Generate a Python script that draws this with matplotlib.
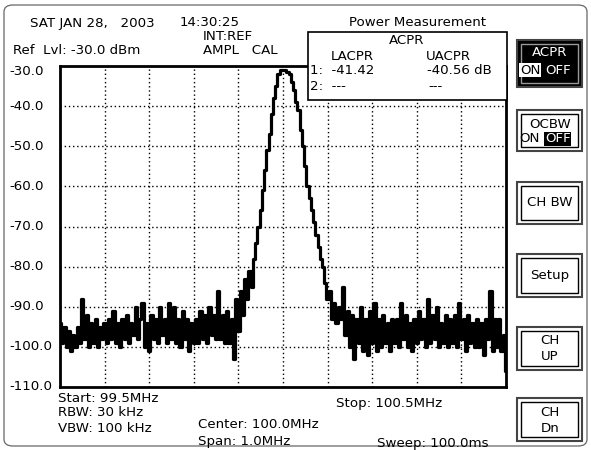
import matplotlib.pyplot as plt
from matplotlib.patches import Rectangle, FancyBboxPatch
import matplotlib.transforms as mtransforms
import numpy as np

W, H = 591, 450

# trace values in dBm, one per 5 kHz step from 99.5 to 100.5 MHz
noise_left = [-94, -99, -95, -100, -96, -101, -97, -100, -95, -99, -88, -98, -92, -100, -94, -99, -93, -100, -95, -98, -94,
              -99, -93, -98, -91, -99, -94, -100, -93, -98, -92, -99, -94, -97, -90, -98, -93, -89, -100, -94, -101,
              -92, -98, -93, -99, -90, -97, -93, -99, -89, -98, -90, -99, -93, -100, -91, -98, -93, -101, -94, -99,
              -93, -99, -91, -98, -92, -99, -90, -97, -92, -98, -86, -98, -92, -99, -91, -99, -93, -103, -88, -96]
skirt_left = [-86, -92, -83, -88, -81, -85, -78, -74]
peak = [-70, -66, -61, -56, -51, -47, -42, -38, -35, -32, -31, -31, -31, -31.5, -32, -34, -36, -39, -41, -46,
        -50, -55, -60, -63, -66, -69, -72, -75, -78, -80, -84, -88, -86, -93, -89, -94, -90, -93, -85]
noise_right = [-97, -91, -100, -92, -103, -93, -99, -90, -101, -93, -102, -91, -99, -89, -101, -93, -100, -92, -99, -94, -101, -93, -99,
               -93, -100, -89, -98, -92, -100, -94, -101, -93, -99, -91, -98, -93, -100, -88, -99, -92, -98, -90, -100,
               -94, -99, -92, -100, -93, -99, -92, -100, -89, -98, -93, -101, -92, -99, -94, -100, -93, -100, -94, -102,
               -93, -98, -86, -101, -93, -100, -93, -101, -97, -106]
trace = np.array(noise_left + skirt_left + peak + noise_right)
freq = np.linspace(99.5, 100.5, len(trace))

y_ticks = [-30, -40, -50, -60, -70, -80, -90, -100, -110]
y_labels = ["-30.0", "-40.0", "-50.0", "-60.0", "-70.0", "-80.0", "-90.0", "-100.0", "-110.0"]


def fx(x):
    return x / W


def fy(y):
    return 1 - y / H


fig = plt.figure(figsize=(W / 100, H / 100), dpi=100)
plt.rcParams['font.family'] = 'DejaVu Sans'
fs = 9.6

# outer frame
fig.add_artist(FancyBboxPatch((fx(4), fy(446)), fx(583), 441 / H, boxstyle="round,pad=0,rounding_size=0.015",
                              transform=fig.transFigure, facecolor='white', edgecolor='#666666', lw=0.9, zorder=-1))

ax = fig.add_axes([fx(60), fy(387), fx(446), 321 / H])
ax.plot(freq, trace, color='black', lw=2.3, drawstyle='steps-mid')
ax.set_xlim(99.5, 100.5)
ax.set_ylim(-110, -30)
ax.set_xticks(np.linspace(99.5, 100.5, 11))
ax.set_yticks(y_ticks)
ax.grid(True, color='black', linestyle=(0, (1, 2)), lw=1)
ax.tick_params(length=0, labelbottom=False, labelleft=False)
for s in ax.spines.values():
    s.set_linewidth(2)

trans = mtransforms.blended_transform_factory(fig.transFigure, ax.transData)
for v, lab in zip(y_ticks, y_labels):
    yy = v - 1.3 if v == -30 else v
    fig.text(fx(9), yy, lab, transform=trans, fontsize=fs, va='center', ha='left')

# header
fig.text(fx(30), fy(23), "SAT JAN 28,   2003", fontsize=fs, va='center')
fig.text(fx(180), fy(23), "14:30:25", fontsize=fs, va='center')
fig.text(fx(203), fy(36), "INT:REF", fontsize=fs, va='center')
fig.text(fx(13), fy(50), "Ref  Lvl: -30.0 dBm", fontsize=fs, va='center')
fig.text(fx(203), fy(50), "AMPL   CAL", fontsize=fs, va='center')
fig.text(fx(418), fy(23), "Power Measurement", fontsize=fs, va='center', ha='center')

# ACPR box
fig.add_artist(Rectangle((fx(308), fy(100)), fx(199), 68 / H, transform=fig.transFigure,
                         facecolor='white', edgecolor='black', lw=1.2, zorder=5))
box_texts = [(407, 40, "ACPR", 'center'), (352, 57, "LACPR", 'center'), (448, 57, "UACPR", 'center'),
             (310, 71, "1:  -41.42", 'left'), (427, 71, "-40.56 dB", 'left'),
             (310, 87, "2:  ---", 'left'), (428, 87, "---", 'left')]
for x, y, t, ha in box_texts:
    fig.text(fx(x), fy(y), t, fontsize=fs, va='center', ha=ha, zorder=6)


def button(y0, y1, black=False):
    fig.add_artist(Rectangle((fx(517), fy(y1)), fx(65), (y1 - y0) / H, transform=fig.transFigure,
                             facecolor='black' if black else 'white', edgecolor='#444444', lw=1.5, zorder=5))
    fig.add_artist(Rectangle((fx(521), fy(y1 - 4)), fx(57), (y1 - y0 - 8) / H, transform=fig.transFigure,
                             facecolor='none', edgecolor='#999999' if black else 'black', lw=1, zorder=5))


button(40, 87, black=True)
fig.text(fx(550), fy(53), "ACPR", color='white', fontsize=fs, ha='center', va='center', zorder=6)
fig.text(fx(520), fy(70), "ON", color='black', fontsize=fs, ha='left', va='center', zorder=6,
         bbox=dict(facecolor='white', edgecolor='none', pad=0.5))
fig.text(fx(545), fy(70), "OFF", color='white', fontsize=fs, ha='left', va='center', zorder=6)

button(110, 151)
fig.text(fx(550), fy(125), "OCBW", fontsize=fs, ha='center', va='center', zorder=6)
fig.text(fx(519), fy(139), "ON", fontsize=fs, ha='left', va='center', zorder=6)
fig.text(fx(545), fy(139), "OFF", color='white', fontsize=fs, ha='left', va='center', zorder=6,
         bbox=dict(facecolor='black', edgecolor='none', pad=0.5))

button(182, 224)
fig.text(fx(550), fy(203), "CH BW", fontsize=fs, ha='center', va='center', zorder=6)
button(254, 297)
fig.text(fx(550), fy(276), "Setup", fontsize=fs, ha='center', va='center', zorder=6)
button(327, 370)
fig.text(fx(550), fy(341), "CH", fontsize=fs, ha='center', va='center', zorder=6)
fig.text(fx(550), fy(357), "UP", fontsize=fs, ha='center', va='center', zorder=6)
button(398, 441)
fig.text(fx(550), fy(412), "CH", fontsize=fs, ha='center', va='center', zorder=6)
fig.text(fx(550), fy(428), "Dn", fontsize=fs, ha='center', va='center', zorder=6)

# footer
footer = [(58, 399, "Start: 99.5MHz"), (58, 413, "RBW: 30 kHz"), (58, 428, "VBW: 100 kHz"),
          (198, 425, "Center: 100.0MHz"), (198, 441, "Span: 1.0MHz"),
          (336, 403, "Stop: 100.5MHz"), (377, 443, "Sweep: 100.0ms")]
for x, y, t in footer:
    fig.text(fx(x), fy(y), t, fontsize=fs, va='center', ha='left')

fig.savefig("out.png", dpi=100)
